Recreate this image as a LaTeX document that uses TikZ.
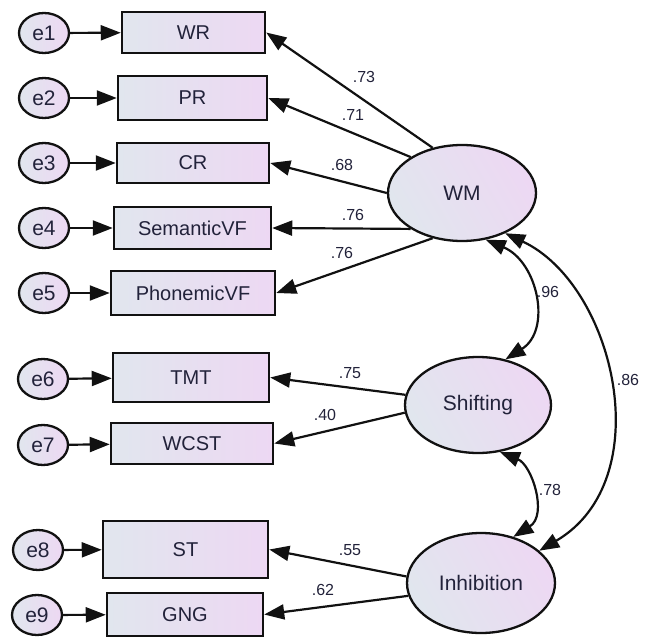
\documentclass[tikz,border=0pt]{standalone}
\usepackage{fontspec}
\setmainfont{Liberation Sans}
\usetikzlibrary{arrows.meta,shapes.geometric}
\definecolor{gl}{HTML}{E1E6EE}
\definecolor{gr}{HTML}{EDD8F3}
\definecolor{txt}{HTML}{22223A}
\definecolor{ln}{HTML}{111111}
\tikzset{
  obs/.style={rectangle, draw=ln, line width=2.5pt, left color=gl, right color=gr,
    inner sep=0pt, font=\fontsize{20}{24}\selectfont, text=txt},
  err/.style={ellipse, draw=ln, line width=2.3pt, left color=gl, right color=gr,
    inner sep=0pt, minimum width=50pt, minimum height=40pt,
    font=\fontsize{21}{24}\selectfont, text=txt},
  lat/.style={ellipse, draw=ln, line width=2.3pt, left color=gl, right color=gr,
    shading angle=120, inner sep=0pt, minimum width=148pt, minimum height=96pt,
    font=\fontsize{21}{24}\selectfont, text=txt},
  tip/.tip={Triangle[length=20pt,width=15pt]},
  conn/.style={line width=2.2pt, draw=ln, -tip},
  cov/.style={line width=2.2pt, draw=ln, tip-tip},
  lbl/.style={font=\fontsize{16}{18}\selectfont, text=txt, inner sep=0pt}
}
\begin{document}
\begin{tikzpicture}[x=1pt,y=-1pt]
\useasboundingbox (0,0) rectangle (645,639);
% observed
\node[obs, minimum width=143pt, minimum height=41pt] (WR) at (193.5,32.5) {WR};
\node[obs, minimum width=149pt, minimum height=44pt] (PR) at (192.5,98) {PR};
\node[obs, minimum width=152pt, minimum height=40pt] (CR) at (193,163) {CR};
\node[obs, minimum width=157pt, minimum height=42pt] (SVF) at (192.5,228) {SemanticVF};
\node[obs, minimum width=164pt, minimum height=44pt] (PVF) at (193,293) {PhonemicVF};
\node[obs, minimum width=156pt, minimum height=49pt] (TMT) at (191,377.5) {TMT};
\node[obs, minimum width=162pt, minimum height=41pt] (WCST) at (192,443.5) {WCST};
\node[obs, minimum width=165pt, minimum height=57pt] (ST) at (185.5,549.5) {ST};
\node[obs, minimum width=156pt, minimum height=43pt] (GNG) at (185,614.5) {GNG};
% errors
\node[err] (e1) at (44,33) {e1};
\node[err] (e2) at (44,98) {e2};
\node[err] (e3) at (44,163) {e3};
\node[err] (e4) at (44,228) {e4};
\node[err] (e5) at (44,293) {e5};
\node[err] (e6) at (43,379) {e6};
\node[err] (e7) at (43,445) {e7};
\node[err] (e8) at (38,550) {e8};
\node[err] (e9) at (37,615) {e9};
% latent
\node[lat] (WM) at (462,193) {WM};
\node[lat, minimum width=146pt] (SH) at (478,405) {Shifting};
\node[lat, minimum height=100pt] (IN) at (481,583) {Inhibition};
% error arrows
\draw[conn] (e1) -- (WR);
\draw[conn] (e2) -- (PR);
\draw[conn] (e3) -- (CR);
\draw[conn] (e4) -- (SVF);
\draw[conn] (e5) -- (PVF);
\draw[conn] (e6) -- (TMT);
\draw[conn] (e7) -- (WCST);
\draw[conn] (e8) -- (ST);
\draw[conn] (e9) -- (GNG);
% loadings
\draw[conn] (WM.123) -- (WR.east);
\draw[conn] (WM.145) -- (PR.east);
\draw[conn] (WM.180) -- (CR.east);
\draw[conn] (WM.215) -- (SVF.east);
\draw[conn] (WM.237) -- (PVF.east);
\draw[conn] (SH.172) -- (TMT.east);
\draw[conn] (SH.186) -- (WCST.east);
\draw[conn] (IN.175) -- (ST.east);
\draw[conn] (IN.190) -- (GNG.east);
% covariances
\draw[cov] (WM.-63) .. controls (538,262) and (552,330) .. (SH.59);
\draw[cov] (WM.-43) .. controls (615,285) and (660,480) .. (IN.29);
\draw[cov] (SH.-65) .. controls (532,465) and (548,515) .. (IN.55);
% labels
\node[lbl] (l1) at (364,77) {.73};
\node[lbl] (l2) at (353,115) {.71};
\node[lbl] (l3) at (342,165) {.68};
\node[lbl] (l4) at (353,215) {.76};
\node[lbl] (l5) at (342,253) {.76};
\node[lbl] (l6) at (548,292) {.96};
\node[lbl] (l7) at (350,373) {.75};
\node[lbl] (l8) at (325,415) {.40};
\node[lbl] (l9) at (628,380) {.86};
\node[lbl] (l10) at (550,490) {.78};
\node[lbl] (l11) at (350,550) {.55};
\node[lbl] (l12) at (323,590) {.62};
\end{tikzpicture}
\end{document}
